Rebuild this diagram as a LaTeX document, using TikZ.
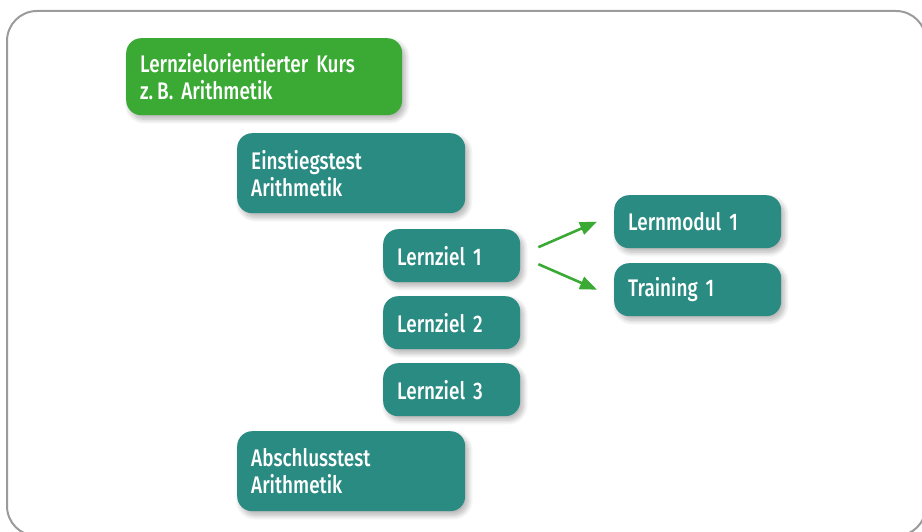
\documentclass[tikz,border=0pt]{standalone}
\usepackage{fontspec}
\setmainfont{Fira Sans}[UprightFont=* Medium, FakeStretch=0.79, WordSpace=0.8]
\usepackage{xcolor}
\usetikzlibrary{arrows.meta, positioning, shadows.blur}
\definecolor{kurs_green}{HTML}{3AAA35}
\definecolor{box_teal}{HTML}{2A8B82}
\definecolor{frame_gray}{HTML}{9B9B9B}

\begin{document}
\begin{tikzpicture}[x=1pt, y=-1pt,
    every node/.style={font=\fontsize{24}{27}\selectfont},
    box/.style={fill=box_teal, text=white, rounded corners=15pt, anchor=north west,
      align=left, inner xsep=14pt, inner ysep=0pt,
      blur shadow={shadow xshift=3pt, shadow yshift=-4pt, shadow opacity=30, shadow blur steps=8, shadow blur radius=5pt}},
    wide/.style={box, minimum width=228pt, text width=200pt, minimum height=80pt},
    small/.style={box, minimum width=137pt, text width=109pt, minimum height=53pt},
    side/.style={box, minimum width=167pt, text width=139pt, minimum height=53pt},
    link/.style={-{Triangle[length=17pt, width=13pt]}, line width=2.6pt, kurs_green}]

    \useasboundingbox (0,0) rectangle (922,532);

    % Draw the outer frame
    \draw[frame_gray, line width=2pt, rounded corners=30pt] (7,11) rectangle (926,536);

    % Course box
    \node[box, fill=kurs_green, minimum width=276pt, text width=248pt, minimum height=77pt]
      (kurs) at (126,38) {Lernzielorientierter Kurs\\z.\,B. Arithmetik};

    % Tests and learning goals
    \node[wide] (einstieg) at (237,133) {Einstiegstest\\Arithmetik};
    \node[small] (lz1) at (383,229) {Lernziel 1};
    \node[small] (lz2) at (383,296) {Lernziel 2};
    \node[small] (lz3) at (383,363) {Lernziel 3};
    \node[wide] (abschluss) at (237,431) {Abschlusstest\\Arithmetik};

    % Module and training for goal 1
    \node[side] (modul1) at (614,195) {Lernmodul 1};
    \node[side] (training1) at (614,263) {Training 1};

    % Arrows from goal 1
    \draw[link] ([xshift=18pt, yshift=8.5pt]lz1.east) -- ([xshift=-17pt]modul1.west);
    \draw[link] ([xshift=18pt, yshift=-8.5pt]lz1.east) -- ([xshift=-17pt]training1.west);

\end{tikzpicture}
\end{document}
